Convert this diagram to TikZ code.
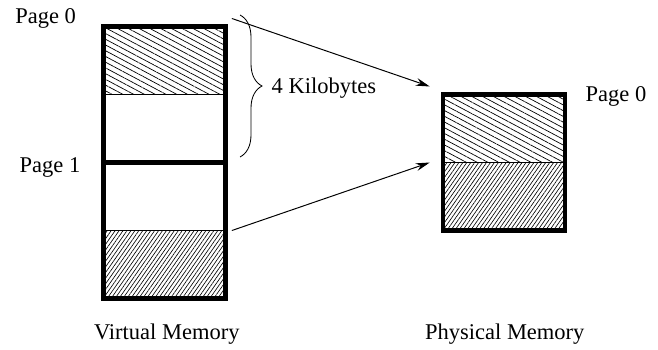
\documentclass[tikz,border=0pt]{standalone}
\usepackage{fontspec}
\setmainfont{Liberation Serif}
\usepackage{tikz}
\usetikzlibrary{arrows.meta,positioning,patterns.meta,decorations.pathreplacing}
\tikzset{
  half/.style={draw, line width=0.5pt, inner sep=0pt, outer sep=0pt,
               minimum width=3.05cm, minimum height=1.7cm},
  hatchdown/.style={half, pattern={Lines[angle=-28,distance=3.6pt,line width=0.5pt]}},
  hatchup/.style={half, pattern={Lines[angle=55,distance=2.3pt,line width=0.45pt]}},
  frame/.style={draw, line width=3.2pt},
  lbl/.style={font=\fontsize{16}{18}\selectfont, inner sep=1pt},
  maparrow/.style={-{Stealth[length=10pt,width=5.5pt]}, line width=0.7pt},
}

\begin{document}
\begin{tikzpicture}
\useasboundingbox (0,-8.75) rectangle (16.45,0);

% Virtual memory: two pages
\node[hatchdown] (v0a) at (4.1125,-1.5125) {};
\node[half, below=0pt of v0a] (v0b) {};
\node[half, below=0pt of v0b] (v1a) {};
\node[hatchup, below=0pt of v1a] (v1b) {};
\draw[frame] (v0a.north west) rectangle (v1b.south east);
\draw[frame] (v0b.south west) -- (v0b.south east);

% Physical memory: one frame
\node[hatchdown] (p0a) at (12.6,-3.2125) {};
\node[hatchup, below=0pt of p0a] (p0b) {};
\draw[frame] (p0a.north west) rectangle (p0b.south east);

% Labels
\node[lbl] (vpg0) at (1.14,-0.45) {Page 0};
\node[lbl] (vpg1) at (1.25,-4.2) {Page 1};
\node[lbl] (ppg0) at (15.4,-2.4) {Page 0};
\node[lbl] (vmem) at (4.17,-8.35) {Virtual Memory};
\node[lbl] (pmem) at (12.62,-8.35) {Physical Memory};

% Page size brace
\coordinate (kbtop) at (6.0,-0.375);
\coordinate (kbbot) at (6.0,-3.925);
\draw[decorate, decoration={brace, amplitude=0.55cm}, line width=0.6pt]
  (kbtop) -- (kbbot);
\node[lbl, anchor=west] (kb) at (6.75,-2.2) {4 Kilobytes};

% Mapping arrows
\coordinate (m0s) at ([xshift=0.16cm, yshift=0.2cm]v0a.north east);
\coordinate (m0e) at ([xshift=-0.33cm, yshift=0.2cm]p0a.north west);
\draw[maparrow] (m0s) -- (m0e);
\coordinate (m1s) at ([xshift=0.16cm]v1b.north east);
\coordinate (m1e) at ([xshift=-0.33cm]p0b.north west);
\draw[maparrow] (m1s) -- (m1e);

\end{tikzpicture}
\end{document}
